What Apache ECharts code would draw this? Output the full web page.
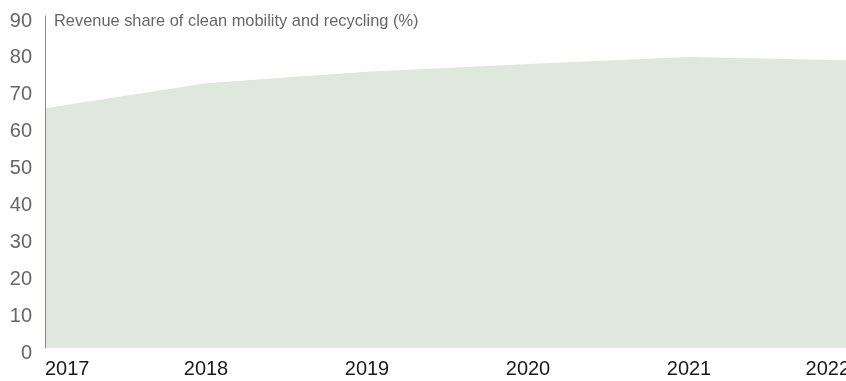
<!DOCTYPE html>
<html>
<head>
<meta charset="utf-8">
<script src="https://cdn.jsdelivr.net/npm/echarts@6/dist/echarts.min.js"></script>
<style>
html,body{margin:0;padding:0;background:#fff;}
#chart{width:846px;height:381px;}
</style>
</head>
<body>
<div id="chart"></div>
<script>
const titleText = 'Revenue share of clean mobility and recycling (%)';
const years = ['2017', '2018', '2019', '2020', '2021', '2022'];
const revenueShare = [65.0, 71.8, 74.9, 77.0, 78.9, 78.0];

const FONT = 'Liberation Sans, Arial, Helvetica, sans-serif';
const chart = echarts.init(document.getElementById('chart'), null, {renderer: 'canvas'});
chart.setOption({
  animation: false,
  backgroundColor: '#ffffff',
  title: {
    text: titleText,
    left: 54,
    top: 13,
    padding: 0,
    textStyle: {
      fontFamily: FONT,
      fontSize: 16.4,
      fontWeight: 'normal',
      color: '#666666'
    }
  },
  grid: {left: 45, right: -4, top: 16, bottom: 33, containLabel: false, outerBoundsMode: 'none'},
  xAxis: {
    type: 'category',
    data: years,
    boundaryGap: false,
    axisLine: {show: false},
    axisTick: {show: false},
    axisLabel: {
      margin: 11,
      fontFamily: FONT,
      fontSize: 20,
      color: '#1a1a1a',
      alignMinLabel: 'left',
      alignMaxLabel: 'right'
    },
    splitLine: {show: false}
  },
  yAxis: {
    type: 'value',
    min: 0,
    max: 90,
    interval: 10,
    z: 5,
    axisLine: {show: true, lineStyle: {color: '#8a8a8a', width: 1}},
    axisTick: {show: false},
    splitLine: {show: false},
    axisLabel: {
      margin: 13,
      verticalAlign: 'top',
      lineHeight: 10,
      fontFamily: FONT,
      fontSize: 20,
      color: '#666666'
    }
  },
  series: [{
    type: 'line',
    data: revenueShare,
    symbol: 'none',
    lineStyle: {width: 0},
    areaStyle: {color: '#dee8dc', opacity: 1},
    z: 1
  }]
});
</script>
</body>
</html>
